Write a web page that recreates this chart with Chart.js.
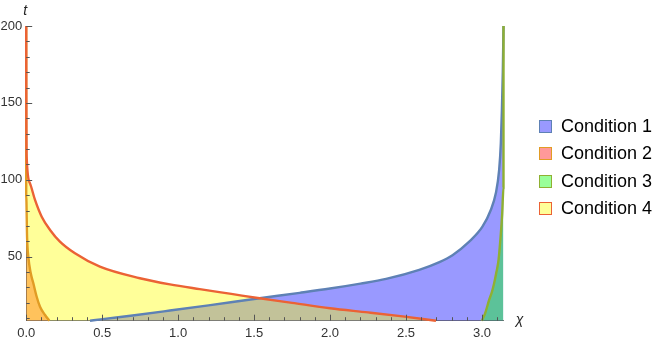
<!DOCTYPE html>
<html>
<head>
<meta charset="utf-8">
<script src="https://cdn.jsdelivr.net/npm/chart.js@4.4.1/dist/chart.umd.min.js"></script>
<style>
    body { margin: 0; background: #fff; }
    #wrap { position: relative; width: 664px; height: 343px; }
    #legenda { position: absolute; left: 539px; top: 114px; font-family: "Liberation Sans", Arial, sans-serif; font-size: 18px; color: #000; }
    .item { position: relative; height: 27.3px; }
    .caixa { position: absolute; left: 0; top: 6px; width: 11px; height: 11px; border: 1.5px solid; }
    .texto { position: absolute; left: 22px; top: 1px; white-space: nowrap; line-height: 22px; }
</style>
</head>
<body>
<div id="wrap">
    <canvas id="grafico" width="664" height="343"></canvas>
    <div id="legenda"></div>
</div>
<script>
const condicoes = ['Condition 1', 'Condition 2', 'Condition 3', 'Condition 4'];

// chi (eixo x) e t (eixo y) de cada curva
const chi1 = [0.42, 0.49, 0.7, 0.946, 1.2, 1.536, 1.8, 2.0, 2.2, 2.369, 2.587, 2.72, 2.806, 2.916, 3.003, 3.058, 3.091, 3.113, 3.124, 3.131, 3.137, 3.1416];
const t1   = [8.4, 9.3, 11.8, 15.0, 18.4, 23, 26.5, 29.3, 32.5, 35.6, 41.5, 46.5, 51, 59.8, 69.5, 80.4, 91.2, 106.4, 123.7, 145, 170, 200];

const chi2 = [0, 0, 0.006, 0.014, 0.03, 0.047, 0.069, 0.091, 0.124, 0.152];
const t2   = [200, 90, 62, 50, 39.2, 32.7, 24, 17.5, 12.1, 8.4];

const chi3 = [2.999, 3.02, 3.047, 3.065, 3.08, 3.095, 3.109, 3.124, 3.133, 3.1416, 3.1416];
const t3   = [8.4, 13, 21.9, 27, 32.7, 40, 47.9, 65, 78, 95, 200];

const chi4 = [0, 0.0005, 0.0015, 0.003, 0.025, 0.058, 0.102, 0.157, 0.222, 0.321, 0.485, 0.748, 0.946, 1.142, 1.35, 1.536, 1.75, 2.0, 2.25, 2.478, 2.697];
const t4   = [200, 160, 130, 115, 97.7, 86.9, 76, 67.4, 59.8, 52.2, 43.5, 36, 32.0, 28.9, 25.8, 23, 20, 16.5, 13.8, 11.2, 8.4];

const ticksX = [0, 0.5, 1.0, 1.5, 2.0, 2.5, 3.0];
const ticksY = [50, 100, 150, 200];

const coresLinha = ['#5E81B5', '#E19C24', '#8FB032', '#EB6235'];
const coresFill = ['rgba(0,0,255,0.4)', 'rgba(255,0,0,0.4)', 'rgba(0,255,0,0.4)', 'rgba(255,255,0,0.4)'];
const coresCaixa = ['#9999ff', '#ff9999', '#99ff99', '#ffff99'];

const fonte = '"Liberation Sans", Arial, sans-serif';

function pontos(xs, ys) {
    return xs.map((x, i) => ({ x: x, y: ys[i] }));
}

// ticks para dentro, estilo Mathematica, e rotulos t / chi
const marcas = {
    id: 'marcas',
    afterDatasetsDraw(chart) {
        const ctx = chart.ctx;
        const area = chart.chartArea;
        const sx = chart.scales.x;
        const sy = chart.scales.y;
        ctx.save();
        ctx.strokeStyle = '#555';
        ctx.lineWidth = 1;
        ctx.beginPath();
        for (let i = 0; i <= 31; i++) {
            const px = Math.round(sx.getPixelForValue(i / 10)) + 0.5;
            const len = i % 5 === 0 ? 6 : 3.5;
            ctx.moveTo(px, area.bottom);
            ctx.lineTo(px, area.bottom - len);
        }
        for (let i = 1; i <= 20; i++) {
            const py = Math.round(sy.getPixelForValue(i * 10)) + 0.5;
            const len = i % 5 === 0 ? 6 : 3.5;
            ctx.moveTo(area.left, py);
            ctx.lineTo(area.left + len, py);
        }
        ctx.stroke();

        ctx.fillStyle = '#222';
        ctx.font = 'italic 14px ' + fonte;
        ctx.textAlign = 'center';
        ctx.textBaseline = 'alphabetic';
        ctx.fillText('t', area.left - 1, 15);
        ctx.fillText('χ', area.right + 16, 324);
        ctx.restore();
    }
};

function desenharGrafico() {
    const ctx = document.getElementById('grafico').getContext('2d');
    const series = [pontos(chi1, t1), pontos(chi2, t2), pontos(chi3, t3), pontos(chi4, t4)];

    new Chart(ctx, {
        type: 'line',
        data: {
            datasets: series.map((dados, i) => ({
                label: condicoes[i],
                data: dados,
                borderColor: coresLinha[i],
                backgroundColor: coresFill[i],
                borderWidth: 2.4,
                pointRadius: 0,
                cubicInterpolationMode: 'monotone',
                fill: 'start',
                clip: 3,
                order: 4 - i
            }))
        },
        options: {
            responsive: false,
            animation: false,
            layout: { padding: { left: 0, top: 26, right: 160.5, bottom: 0 } },
            plugins: {
                legend: { display: false },
                tooltip: { enabled: false },
                filler: { drawTime: 'beforeDatasetsDraw' }
            },
            scales: {
                x: {
                    type: 'linear',
                    min: 0,
                    max: 3.1416,
                    afterFit(scale) { scale.height = 22.3; },
                    afterBuildTicks(scale) { scale.ticks = ticksX.map(v => ({ value: v })); },
                    grid: { display: false, drawTicks: false },
                    border: { display: true, color: '#777', width: 1 },
                    ticks: {
                        padding: 5,
                        color: '#333',
                        font: { family: fonte, size: 13 },
                        callback: v => v.toFixed(1),
                        maxRotation: 0,
                        autoSkip: false
                    }
                },
                y: {
                    type: 'linear',
                    min: 8.4,
                    max: 200,
                    afterFit(scale) { scale.width = 26.2; },
                    afterBuildTicks(scale) { scale.ticks = ticksY.map(v => ({ value: v })); },
                    grid: { display: false, drawTicks: false },
                    border: { display: true, color: '#777', width: 1 },
                    ticks: {
                        padding: 4,
                        color: '#333',
                        font: { family: fonte, size: 13 },
                        autoSkip: false
                    }
                }
            }
        },
        plugins: [marcas]
    });

    const legenda = document.getElementById('legenda');
    legenda.innerHTML = condicoes.map((nome, i) => `
        <div class="item">
            <span class="caixa" style="background:${coresCaixa[i]};border-color:${coresLinha[i]}"></span>
            <span class="texto">${nome}</span>
        </div>`).join('');
}

desenharGrafico();
</script>
</body>
</html>
